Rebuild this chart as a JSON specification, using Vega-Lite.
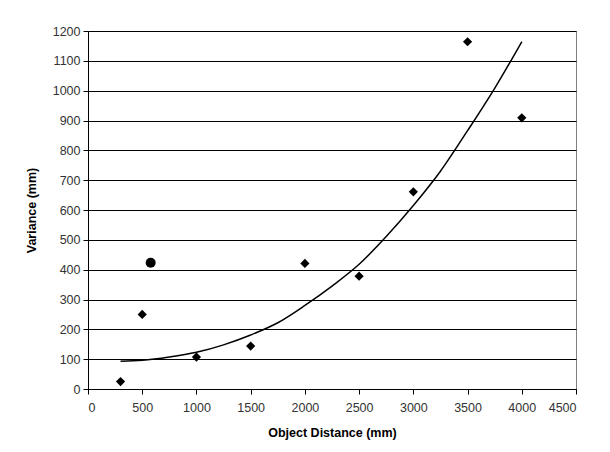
{
  "$schema": "https://vega.github.io/schema/vega-lite/v6.json",
  "autosize": "none",
  "padding": {"left": 88, "top": 31, "right": 34, "bottom": 63},
  "width": 488,
  "height": 358,
  "background": "white",
  "config": {
    "font": "Liberation Sans",
    "view": {"stroke": "#808080", "strokeWidth": 1},
    "axis": {
      "labelFont": "Liberation Sans",
      "labelFontSize": 12.5,
      "labelColor": "#333333",
      "titleFont": "Liberation Sans",
      "titleFontSize": 12.5,
      "titleFontWeight": "bold",
      "titleColor": "#000000",
      "domainColor": "#000000",
      "tickColor": "#000000",
      "tickSize": 5,
      "gridColor": "#000000",
      "gridOpacity": 1,
      "gridWidth": 1
    }
  },
  "datasets": {
    "trend": [
      {"d": 300, "v": 93},
      {"d": 500, "v": 96},
      {"d": 750, "v": 107},
      {"d": 1000, "v": 123},
      {"d": 1250, "v": 148},
      {"d": 1500, "v": 181},
      {"d": 1750, "v": 222},
      {"d": 2000, "v": 280},
      {"d": 2250, "v": 345},
      {"d": 2500, "v": 418},
      {"d": 2750, "v": 511},
      {"d": 3000, "v": 615},
      {"d": 3250, "v": 730},
      {"d": 3500, "v": 866},
      {"d": 3750, "v": 1008},
      {"d": 4000, "v": 1164}
    ],
    "measured": [
      {"d": 300, "v": 25},
      {"d": 500, "v": 250},
      {"d": 1000, "v": 107},
      {"d": 1500, "v": 144},
      {"d": 2000, "v": 421},
      {"d": 2500, "v": 378},
      {"d": 3000, "v": 661},
      {"d": 3500, "v": 1164},
      {"d": 4000, "v": 909}
    ],
    "single": [
      {"d": 578, "v": 423}
    ]
  },
  "encoding": {
    "x": {
      "field": "d",
      "type": "quantitative",
      "scale": {"domain": [0, 4500], "nice": false, "zero": false},
      "axis": {
        "title": "Object Distance (mm)",
        "format": "d",
        "values": [0, 500, 1000, 1500, 2000, 2500, 3000, 3500, 4000, 4500],
        "grid": false,
        "labelPadding": 7,
        "titlePadding": 13
      }
    },
    "y": {
      "field": "v",
      "type": "quantitative",
      "scale": {"domain": [0, 1200], "nice": false},
      "axis": {
        "title": "Variance (mm)",
        "format": "d",
        "values": [0, 100, 200, 300, 400, 500, 600, 700, 800, 900, 1000, 1100, 1200],
        "grid": true,
        "labelPadding": 3,
        "titlePadding": 14
      }
    }
  },
  "layer": [
    {
      "data": {"name": "trend"},
      "mark": {"type": "line", "color": "#000000", "strokeWidth": 1.5, "interpolate": "monotone"}
    },
    {
      "data": {"name": "measured"},
      "mark": {"type": "point", "shape": "diamond", "filled": true, "color": "#000000", "size": 85, "opacity": 1}
    },
    {
      "data": {"name": "single"},
      "mark": {"type": "point", "shape": "circle", "filled": true, "color": "#000000", "size": 100, "opacity": 1}
    }
  ]
}
